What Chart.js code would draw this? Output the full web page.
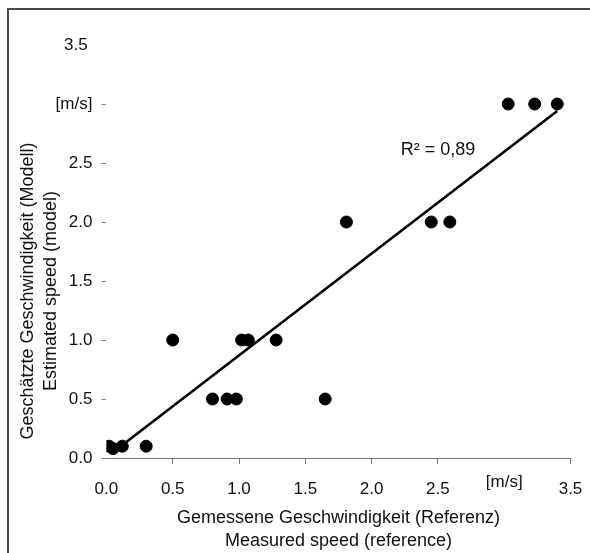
<!DOCTYPE html>
<html><head><meta charset="utf-8">
<script src="https://cdn.jsdelivr.net/npm/chart.js@4"></script>
<style>
html,body{margin:0;padding:0;background:#fff;}
#wrap{position:relative;width:590px;height:553px;overflow:hidden;}
#frame{position:absolute;left:7px;top:8px;width:620px;height:620px;border-top:2px solid #4a4a4a;border-left:2px solid #4a4a4a;}
canvas{position:absolute;left:0;top:0;}
</style></head><body>
<div id="wrap"><div id="frame"></div><canvas id="c" width="590" height="553"></canvas></div>
<script>
const measured  = [0.02, 0.05, 0.12, 0.30, 0.50, 0.80, 0.91, 0.98, 1.02, 1.07, 1.28, 1.65, 1.81, 2.45, 2.59, 3.03, 3.23, 3.40];
const estimated = [0.10, 0.08, 0.10, 0.10, 1.00, 0.50, 0.50, 0.50, 1.00, 1.00, 1.00, 0.50, 2.00, 2.00, 2.00, 3.00, 3.00, 3.00];
const trendX = [0.15, 3.40];
const trendY = [0.136, 2.941];
const xTickLabels = ['0.0','0.5','1.0','1.5','2.0','2.5','[m/s]','3.5'];
const yTickLabels = ['0.0','0.5','1.0','1.5','2.0','2.5','[m/s]','3.5\u00A0'];
const xTitle = ['Gemessene Geschwindigkeit (Referenz)', 'Measured speed (reference)'];
const yTitle = ['Geschätzte Geschwindigkeit (Modell)', 'Estimated speed (model)'];
const r2Label = 'R\u00B2 = 0,89';
const r2Pos = {x: 2.22, y: 2.57};

const FONT = '"Liberation Sans", Arial, sans-serif';
const scatterData = measured.map((v, i) => ({x: v, y: estimated[i]}));
const trendData = trendX.map((v, i) => ({x: v, y: trendY[i]}));

const extraText = {
  id: 'extraText',
  afterDraw(chart) {
    const ctx = chart.ctx;
    const ys = chart.scales.y, xs = chart.scales.x;
    ctx.save();
    ctx.fillStyle = '#111';
    ctx.font = '18px ' + FONT;
    ctx.textAlign = 'center';
    ctx.textBaseline = 'middle';
    const cy = 291;
    [28, 51].forEach((cx, i) => {
      ctx.save();
      ctx.translate(cx, cy);
      ctx.rotate(-Math.PI / 2);
      ctx.fillText(yTitle[i], 0, 0);
      ctx.restore();
    });
    ctx.textAlign = 'left';
    ctx.textBaseline = 'alphabetic';
    ctx.font = '18px ' + FONT;
    ctx.fillText(r2Label, xs.getPixelForValue(r2Pos.x), ys.getPixelForValue(r2Pos.y));
    ctx.restore();
  }
};

new Chart(document.getElementById('c'), {
  type: 'scatter',
  data: {
    datasets: [
      {
        data: scatterData,
        backgroundColor: '#000',
        borderColor: '#000',
        pointRadius: 6,
        pointBorderWidth: 1,
        pointHoverRadius: 6
      },
      {
        type: 'line',
        data: trendData,
        borderColor: '#000',
        borderWidth: 2.6,
        pointRadius: 0,
        fill: false,
        tension: 0
      }
    ]
  },
  options: {
    responsive: false,
    animation: false,
    layout: {padding: {left: 0, top: 45, right: 19.5, bottom: 0}},
    plugins: {legend: {display: false}, tooltip: {enabled: false}},
    scales: {
      x: {
        type: 'linear',
        min: 0, max: 3.5,
        afterFit(s) { s.height = 95; },
        border: {display: true, color: '#777', width: 1},
        grid: {
          drawOnChartArea: false,
          drawTicks: true,
          tickLength: 6,
          tickWidth: 1,
          tickColor: c => (c.tick && (Math.abs(c.tick.value) < 1e-6 || Math.abs(c.tick.value - 3) < 1e-6)) ? 'rgba(0,0,0,0)' : '#777'
        },
        ticks: {
          stepSize: 0.5,
          padding: 0,
          color: '#111',
          maxRotation: 0,
          autoSkip: false,
          font: c => (c.tick && Math.abs(c.tick.value - 3) < 1e-6) ? {family: FONT, size: 17, lineHeight: 2.2} : {family: FONT, size: 17, lineHeight: 2.94},
          callback: v => xTickLabels[Math.round(v * 2)]
        },
        title: {
          display: true,
          text: xTitle,
          color: '#111',
          font: {family: FONT, size: 18, lineHeight: 1.278},
          padding: {top: 0, bottom: 0}
        }
      },
      y: {
        type: 'linear',
        min: 0, max: 3.5,
        afterFit(s) { s.width = 106.4; },
        border: {display: false},
        grid: {
          drawOnChartArea: false,
          drawTicks: true,
          tickLength: 5,
          tickWidth: 1,
          tickColor: c => (c.tick && Math.abs(c.tick.value - 3.5) < 1e-6) ? 'rgba(0,0,0,0)' : '#888'
        },
        ticks: {
          stepSize: 0.5,
          padding: 9,
          color: '#111',
          autoSkip: false,
          font: {family: FONT, size: 17},
          callback: v => yTickLabels[Math.round(v * 2)]
        }
      }
    }
  },
  plugins: [extraText]
});
</script>
</body></html>
